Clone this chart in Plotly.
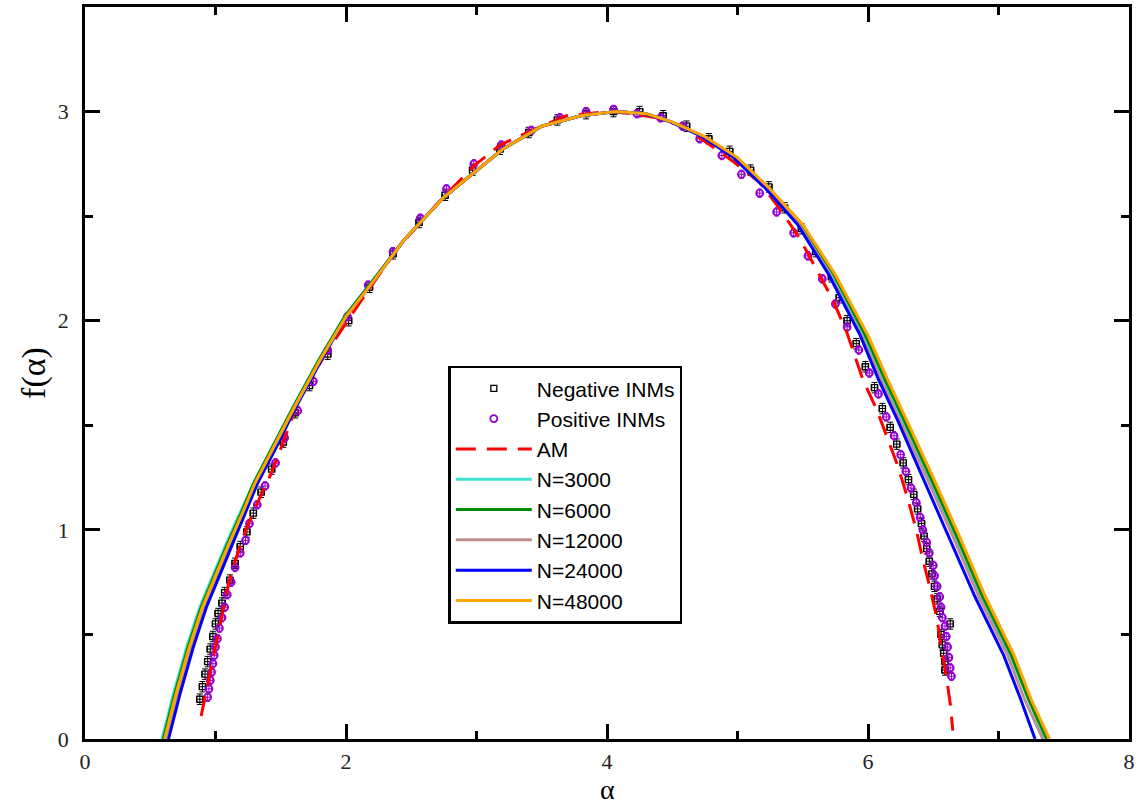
import plotly.graph_objects as go

# ---------------- data ----------------
# Negative INMs (black squares)
neg_alpha = [0.88, 0.90, 0.92, 0.94, 0.96, 0.98, 1.00, 1.02, 1.05, 1.07, 1.11, 1.15, 1.19, 1.24,
             1.29, 1.35, 1.43, 1.52, 1.61, 1.72, 1.86, 2.02, 2.18, 2.36, 2.56, 2.76, 2.97, 3.18,
             3.40, 3.62, 3.84, 4.05, 4.25, 4.43, 4.61, 4.78, 4.94, 5.10, 5.24, 5.36, 5.49, 5.60,
             5.72, 5.78, 5.84, 5.91, 5.98, 6.05, 6.11, 6.17, 6.22, 6.27, 6.31, 6.35, 6.38, 6.41,
             6.43, 6.45, 6.47, 6.49, 6.51, 6.53, 6.55, 6.63, 6.56, 6.57, 6.58, 6.59, 6.59]
neg_f = [0.19, 0.25, 0.31, 0.37, 0.43, 0.49, 0.55, 0.60, 0.65, 0.70, 0.76, 0.84, 0.92, 0.99,
         1.08, 1.18, 1.29, 1.42, 1.56, 1.69, 1.84, 2.00, 2.16, 2.32, 2.47, 2.60, 2.72, 2.82,
         2.90, 2.96, 2.99, 3.00, 3.00, 2.98, 2.93, 2.87, 2.81, 2.72, 2.64, 2.54, 2.44, 2.33,
         2.21, 2.11, 2.00, 1.89, 1.78, 1.68, 1.58, 1.49, 1.41, 1.32, 1.24, 1.17, 1.10, 1.03,
         0.97, 0.91, 0.85, 0.79, 0.73, 0.67, 0.61, 0.55, 0.50, 0.45, 0.41, 0.37, 0.33]

# Positive INMs (purple circles)
pos_alpha = [0.94, 0.95, 0.96, 0.97, 0.98, 0.99, 1.00, 1.015, 1.03, 1.05, 1.07, 1.09, 1.12, 1.15,
             1.19, 1.23, 1.26, 1.32, 1.38, 1.46, 1.53, 1.63, 1.75, 1.86, 2.01, 2.17, 2.36, 2.57,
             2.77, 2.98, 3.19, 3.42, 3.64, 3.84, 4.05, 4.23, 4.41, 4.58, 4.71, 4.88, 5.03, 5.17,
             5.30, 5.43, 5.54, 5.65, 5.75, 5.84, 5.93, 6.01, 6.08, 6.14, 6.20, 6.25, 6.29, 6.33,
             6.37, 6.40, 6.42, 6.45, 6.47, 6.50, 6.51, 6.53, 6.55, 6.56, 6.57, 6.59, 6.60, 6.61,
             6.62, 6.63, 6.64]
pos_f = [0.20, 0.24, 0.28, 0.32, 0.36, 0.40, 0.44, 0.48, 0.53, 0.58, 0.63, 0.69, 0.75, 0.82,
         0.89, 0.95, 1.03, 1.12, 1.21, 1.32, 1.44, 1.57, 1.71, 1.86, 2.02, 2.17, 2.33, 2.49,
         2.63, 2.75, 2.84, 2.91, 2.97, 3.00, 3.01, 2.99, 2.97, 2.93, 2.87, 2.79, 2.70, 2.61,
         2.52, 2.42, 2.31, 2.20, 2.08, 1.97, 1.86, 1.75, 1.65, 1.54, 1.45, 1.36, 1.28, 1.20,
         1.13, 1.06, 1.00, 0.94, 0.89, 0.83, 0.78, 0.73, 0.68, 0.63, 0.58, 0.54, 0.49, 0.44,
         0.39, 0.34, 0.30]

# AM (red dashed)
am_alpha = [0.89, 0.95, 1.01, 1.06, 1.10, 1.15, 1.22, 1.30, 1.42, 1.52, 1.63, 1.74, 1.85, 1.97,
            2.12, 2.40, 2.70, 2.98, 3.18, 3.46, 3.69, 4.00, 4.20, 4.38, 4.58, 4.79, 4.97, 5.17,
            5.33, 5.48, 5.61, 5.73, 5.84, 5.91, 5.96, 6.07, 6.14, 6.22, 6.30, 6.37, 6.42, 6.48,
            6.53, 6.56, 6.60, 6.63, 6.65]
am_f = [0.11, 0.29, 0.46, 0.61, 0.74, 0.85, 0.98, 1.10, 1.26, 1.42, 1.61, 1.73, 1.85, 1.96,
        2.10, 2.35, 2.56, 2.74, 2.84, 2.92, 2.98, 3.00, 2.99, 2.97, 2.93, 2.84, 2.76, 2.66,
        2.53, 2.39, 2.24, 2.10, 1.94, 1.81, 1.72, 1.57, 1.45, 1.32, 1.16, 1.00, 0.86, 0.71,
        0.57, 0.44, 0.30, 0.17, 0.04]

# model curves for different N (shared f values, per-N alpha values)
f_model = [0.00, 0.22, 0.44, 0.63, 0.78, 0.93, 1.07, 1.22, 1.40, 1.58, 1.81, 2.02, 2.18, 2.39,
           2.59, 2.72, 2.82, 2.93, 2.98, 3.00, 2.99, 2.95, 2.88, 2.78, 2.63, 2.46, 2.22, 1.93,
           1.72, 1.52, 1.25, 0.97, 0.68, 0.40, 0.19, 0.00]
alpha_n3000 = [0.59, 0.68, 0.78, 0.88, 0.98, 1.08, 1.18, 1.29, 1.44, 1.59, 1.79, 1.99, 2.19, 2.45,
               2.75, 3.00, 3.20, 3.50, 3.80, 4.07, 4.30, 4.50, 4.74, 4.99, 5.24, 5.48, 5.73, 5.97,
               6.12, 6.27, 6.47, 6.67, 6.87, 7.09, 7.23, 7.36]
alpha_n6000 = [0.60, 0.69, 0.79, 0.89, 0.99, 1.09, 1.19, 1.29, 1.44, 1.59, 1.79, 1.99, 2.19, 2.45,
               2.75, 3.00, 3.20, 3.50, 3.80, 4.07, 4.30, 4.50, 4.74, 4.99, 5.24, 5.49, 5.74, 5.98,
               6.13, 6.28, 6.48, 6.68, 6.88, 7.10, 7.23, 7.37]
alpha_n12000 = [0.62, 0.71, 0.81, 0.91, 1.01, 1.11, 1.21, 1.31, 1.45, 1.60, 1.80, 2.00, 2.20, 2.45,
                2.75, 3.00, 3.20, 3.50, 3.80, 4.07, 4.30, 4.50, 4.74, 4.99, 5.23, 5.47, 5.71, 5.95,
                6.10, 6.25, 6.45, 6.65, 6.85, 7.07, 7.20, 7.34]
alpha_n24000 = [0.64, 0.73, 0.83, 0.93, 1.03, 1.13, 1.22, 1.32, 1.47, 1.61, 1.81, 2.00, 2.20, 2.45,
                2.75, 3.00, 3.20, 3.50, 3.80, 4.07, 4.29, 4.49, 4.73, 4.97, 5.22, 5.46, 5.70, 5.94,
                6.08, 6.23, 6.42, 6.62, 6.82, 7.04, 7.17, 7.28]
alpha_n48000 = [0.61, 0.70, 0.80, 0.90, 1.00, 1.10, 1.20, 1.30, 1.45, 1.60, 1.80, 2.00, 2.20, 2.45,
                2.75, 3.00, 3.20, 3.50, 3.80, 4.07, 4.30, 4.50, 4.75, 5.00, 5.25, 5.50, 5.75, 6.00,
                6.15, 6.30, 6.50, 6.70, 6.90, 7.12, 7.25, 7.39]

model_names = ["N=3000", "N=6000", "N=12000", "N=24000", "N=48000"]
model_alphas = [alpha_n3000, alpha_n6000, alpha_n12000, alpha_n24000, alpha_n48000]
model_colors = ["#40E0D0", "#008B00", "#BC8F8F", "#0000FF", "#FFA500"]

x_ticks = [0, 2, 4, 6, 8]
y_ticks = [0, 1, 2, 3]
x_title = "α"
y_title = "f(α)"

# ---------------- figure ----------------
fig = go.Figure()

fig.add_trace(go.Scatter(
    x=neg_alpha, y=neg_f, mode="markers", name="Negative INMs",
    marker=dict(symbol="square-open", size=6, color="black", line=dict(width=1.3)),
    error_x=dict(type="constant", value=0.025, color="black", thickness=1, width=3),
    error_y=dict(type="constant", value=0.025, color="black", thickness=1, width=3),
))
fig.add_trace(go.Scatter(
    x=pos_alpha, y=pos_f, mode="markers", name="Positive INMs",
    marker=dict(symbol="circle-open", size=7, color="#9400D3", line=dict(width=1.8)),
    error_x=dict(type="constant", value=0.02, color="#9400D3", thickness=1, width=2),
    error_y=dict(type="constant", value=0.02, color="#9400D3", thickness=1, width=2),
))
fig.add_trace(go.Scatter(
    x=am_alpha, y=am_f, mode="lines", name="AM",
    line=dict(color="#FF0000", width=3, dash="20px,11px"),
))
for name, ax, col in zip(model_names, model_alphas, model_colors):
    fig.add_trace(go.Scatter(
        x=ax, y=f_model, mode="lines", name=name,
        line=dict(color=col, width=3),
    ))

serif = "Liberation Serif, Times New Roman, serif"
axis_common = dict(
    showline=True, linecolor="black", linewidth=2.5, mirror="ticks",
    ticks="inside", ticklen=15, tickwidth=2.5, tickcolor="black",
    showgrid=False, zeroline=False, automargin=False,
    tickfont=dict(family=serif, size=22, color="#222"),
)

fig.update_xaxes(
    range=[0, 8], tickvals=x_ticks, ticktext=[str(v) for v in x_ticks],
    minor=dict(ticks="inside", ticklen=8, tickwidth=2.5, tickcolor="black", dtick=1, tick0=0),
    ticklabelstandoff=1,
    **axis_common,
)
fig.update_yaxes(
    range=[0, 3.5], tickvals=y_ticks, ticktext=[str(v) for v in y_ticks],
    minor=dict(ticks="inside", ticklen=8, tickwidth=2.5, tickcolor="black", dtick=0.5, tick0=0),
    title=dict(text=y_title, font=dict(family=serif, size=34, color="black"), standoff=2),
    ticklabelstandoff=9,
    **axis_common,
)

# x-axis title as an annotation, placed below the tick labels
fig.add_annotation(
    text=x_title, xref="paper", yref="paper", x=0.5, y=-0.092,
    xanchor="center", yanchor="bottom", showarrow=False, borderpad=0,
    font=dict(family=serif, size=28, color="black"),
)

fig.update_layout(
    width=1142, height=808,
    margin=dict(l=85, r=13, t=7, b=69),
    paper_bgcolor="white", plot_bgcolor="white",
    showlegend=True,
    legend=dict(
        x=0.348, y=0.51, xanchor="left", yanchor="top",
        bgcolor="white", bordercolor="black", borderwidth=2.5,
        font=dict(family="Liberation Sans, Arial, sans-serif", size=21, color="black"),
        itemwidth=76, tracegroupgap=0,
    ),
)

fig.write_html("out.html")
